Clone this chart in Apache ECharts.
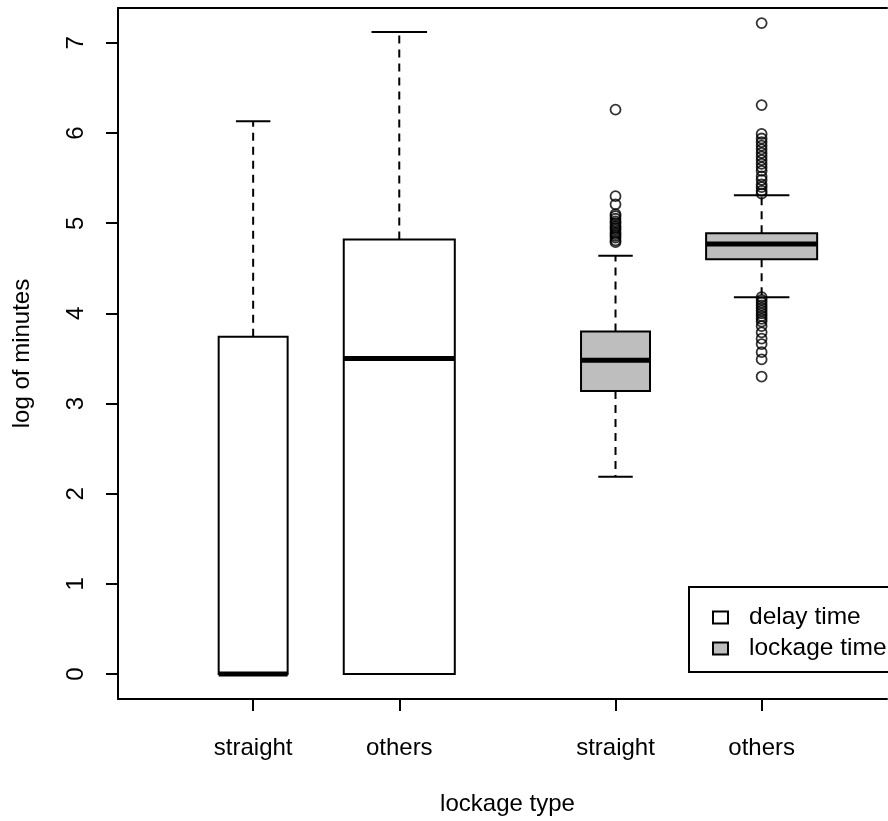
<!DOCTYPE html>
<html>
<head>
<meta charset="utf-8">
<script src="https://cdn.jsdelivr.net/npm/echarts@6/dist/echarts.min.js"></script>
<style>
html,body{margin:0;padding:0;background:#fff;}
#chart{width:888px;height:821px;}
</style>
</head>
<body>
<div id="chart"></div>
<script>
// ---- data ----
const positions = [1, 2, 3.48, 4.48];
const tickLabels = ['straight', 'others', 'straight', 'others'];
const groups = ['delay time', 'delay time', 'lockage time', 'lockage time'];
const yTicks = [0, 1, 2, 3, 4, 5, 6, 7];
const lowWhisker = [0, 0, 2.19, 4.18];
const q1 = [0, 0, 3.14, 4.60];
const median = [0, 3.50, 3.48, 4.77];
const q3 = [3.74, 4.82, 3.80, 4.89];
const highWhisker = [6.13, 7.12, 4.64, 5.31];
const outliers = [
  [],
  [],
  [4.79, 4.81, 4.84, 4.86, 4.88, 4.90, 4.93, 4.95, 4.97, 5.00, 5.02, 5.05, 5.08, 5.10, 5.21, 5.30, 6.26],
  [3.30, 3.49, 3.57, 3.66, 3.72, 3.79, 3.86, 3.91, 3.94, 3.97, 4.00, 4.03, 4.06, 4.09, 4.12, 4.15, 4.18,
   5.33, 5.36, 5.40, 5.43, 5.48, 5.52, 5.58, 5.62, 5.66, 5.70, 5.74, 5.78, 5.82, 5.86, 5.90, 5.94, 5.99, 6.31, 7.22]
];

// ---- styles ----
const BOX_W = [0.472, 0.76, 0.472, 0.76];
const FILL = {'delay time': '#ffffff', 'lockage time': '#bebebe'};
const FONT = 'Liberation Sans, Arial, sans-serif';
const FS = 24;
const LW = 2;

const chart = echarts.init(document.getElementById('chart'), null, {renderer: 'canvas'});

function boxData(name) {
  const d = [];
  for (let i = 0; i < positions.length; i++) {
    if (groups[i] === name) d.push([positions[i], lowWhisker[i], q1[i], median[i], q3[i], highWhisker[i], i]);
  }
  return d;
}

function renderBox(params, api) {
  const pos = api.value(0), lo = api.value(1), b1 = api.value(2), md = api.value(3), b3 = api.value(4), hi = api.value(5);
  const idx = api.value(6);
  const w = BOX_W[idx];
  const fill = FILL[groups[idx]];
  const pLo = api.coord([pos, lo]), pQ1 = api.coord([pos, b1]), pQ3 = api.coord([pos, b3]), pHi = api.coord([pos, hi]);
  const xl = api.coord([pos - w / 2, 0])[0], xr = api.coord([pos + w / 2, 0])[0];
  const cl = api.coord([pos - w / 4, 0])[0], cr = api.coord([pos + w / 4, 0])[0];
  const pMd = api.coord([pos, md]);
  const lineStyle = {stroke: '#000', lineWidth: LW};
  return {
    type: 'group',
    children: [
      {type: 'line', shape: {x1: pQ3[0], y1: pQ3[1], x2: pHi[0], y2: pHi[1]}, style: {stroke: '#000', lineWidth: LW, lineDash: [8, 6]}},
      {type: 'line', shape: {x1: pQ1[0], y1: pQ1[1], x2: pLo[0], y2: pLo[1]}, style: {stroke: '#000', lineWidth: LW, lineDash: [8, 6]}},
      {type: 'line', shape: {x1: cl, y1: pHi[1], x2: cr, y2: pHi[1]}, style: lineStyle},
      {type: 'line', shape: {x1: cl, y1: pLo[1], x2: cr, y2: pLo[1]}, style: lineStyle},
      {type: 'rect', shape: {x: xl, y: pQ3[1], width: xr - xl, height: pQ1[1] - pQ3[1]}, style: {fill: fill, stroke: '#000', lineWidth: LW}},
      {type: 'line', shape: {x1: xl, y1: pMd[1], x2: xr, y2: pMd[1]}, style: {stroke: '#000', lineWidth: 5}}
    ]
  };
}

const outlierData = [];
outliers.forEach((arr, i) => arr.forEach(v => outlierData.push([positions[i], v])));

const X_MIN = 0.075, X_MAX = 5.338;

const option = {
  animation: false,
  backgroundColor: '#fff',
  textStyle: {fontFamily: FONT},
  grid: {left: 118, top: 8, width: 769, height: 693, show: false},
  xAxis: [{
    type: 'value', min: X_MIN, max: X_MAX, position: 'bottom',
    axisLine: {show: true, onZero: false, lineStyle: {color: '#000', width: LW}},
    splitLine: {show: false},
    axisTick: {show: true, customValues: positions, length: 12, inside: false, lineStyle: {color: '#000', width: LW}},
    axisLabel: {
      customValues: positions, margin: 37, color: '#000', fontSize: FS, fontFamily: FONT,
      formatter: v => { const i = positions.findIndex(p => Math.abs(p - v) < 1e-6); return i >= 0 ? tickLabels[i] : ''; }
    },
    name: 'lockage type', nameLocation: 'middle', nameGap: 93,
    nameTextStyle: {color: '#000', fontSize: FS, fontFamily: FONT, padding: [0, 0, 0, 10]}
  }, {
    type: 'value', min: X_MIN, max: X_MAX, position: 'top',
    axisLine: {show: true, onZero: false, lineStyle: {color: '#000', width: LW}},
    splitLine: {show: false}, axisTick: {show: false}, axisLabel: {show: false}
  }],
  yAxis: {
    type: 'value', min: -0.276, max: 7.387,
    axisLine: {show: true, onZero: false, lineStyle: {color: '#000', width: LW}},
    splitLine: {show: false},
    axisTick: {show: true, customValues: yTicks, length: 12, lineStyle: {color: '#000', width: LW}},
    axisLabel: {customValues: yTicks, rotate: 90, margin: 30, color: '#000', fontSize: FS, fontFamily: FONT},
    name: 'log of minutes', nameLocation: 'middle', nameGap: 84, nameRotate: 90,
    nameTextStyle: {color: '#000', fontSize: FS, fontFamily: FONT}
  },
  graphic: [
    {type: 'rect', left: 688, top: 586, z: 5, shape: {width: 260, height: 85}, style: {fill: '#fff', stroke: '#000', lineWidth: LW}}
  ],
  legend: {
    orient: 'vertical', left: 712, top: 605, z: 10,
    padding: 0,
    itemWidth: 15, itemHeight: 12, itemGap: 6,
    textStyle: {color: '#000', fontSize: 24.5, fontFamily: FONT, padding: [0, 0, 0, 16]},
    selectedMode: false,
    data: [
      {name: 'delay time', icon: 'rect', itemStyle: {color: '#fff', borderColor: '#000', borderWidth: LW}},
      {name: 'lockage time', icon: 'rect', itemStyle: {color: '#bebebe', borderColor: '#000', borderWidth: LW}}
    ]
  },
  series: [
    {name: 'delay time', type: 'custom', renderItem: renderBox, data: boxData('delay time'), encode: {x: 0, y: [1, 5]}, itemStyle: {color: '#fff'}, clip: false},
    {name: 'lockage time', type: 'custom', renderItem: renderBox, data: boxData('lockage time'), encode: {x: 0, y: [1, 5]}, itemStyle: {color: '#bebebe'}, clip: false},
    {name: 'outliers', type: 'scatter', data: outlierData, symbol: 'circle', symbolSize: 10,
     itemStyle: {color: 'rgba(255,255,255,0)', borderColor: '#000', borderWidth: 1.8}}
  ]
};
chart.setOption(option);
</script>
</body>
</html>
